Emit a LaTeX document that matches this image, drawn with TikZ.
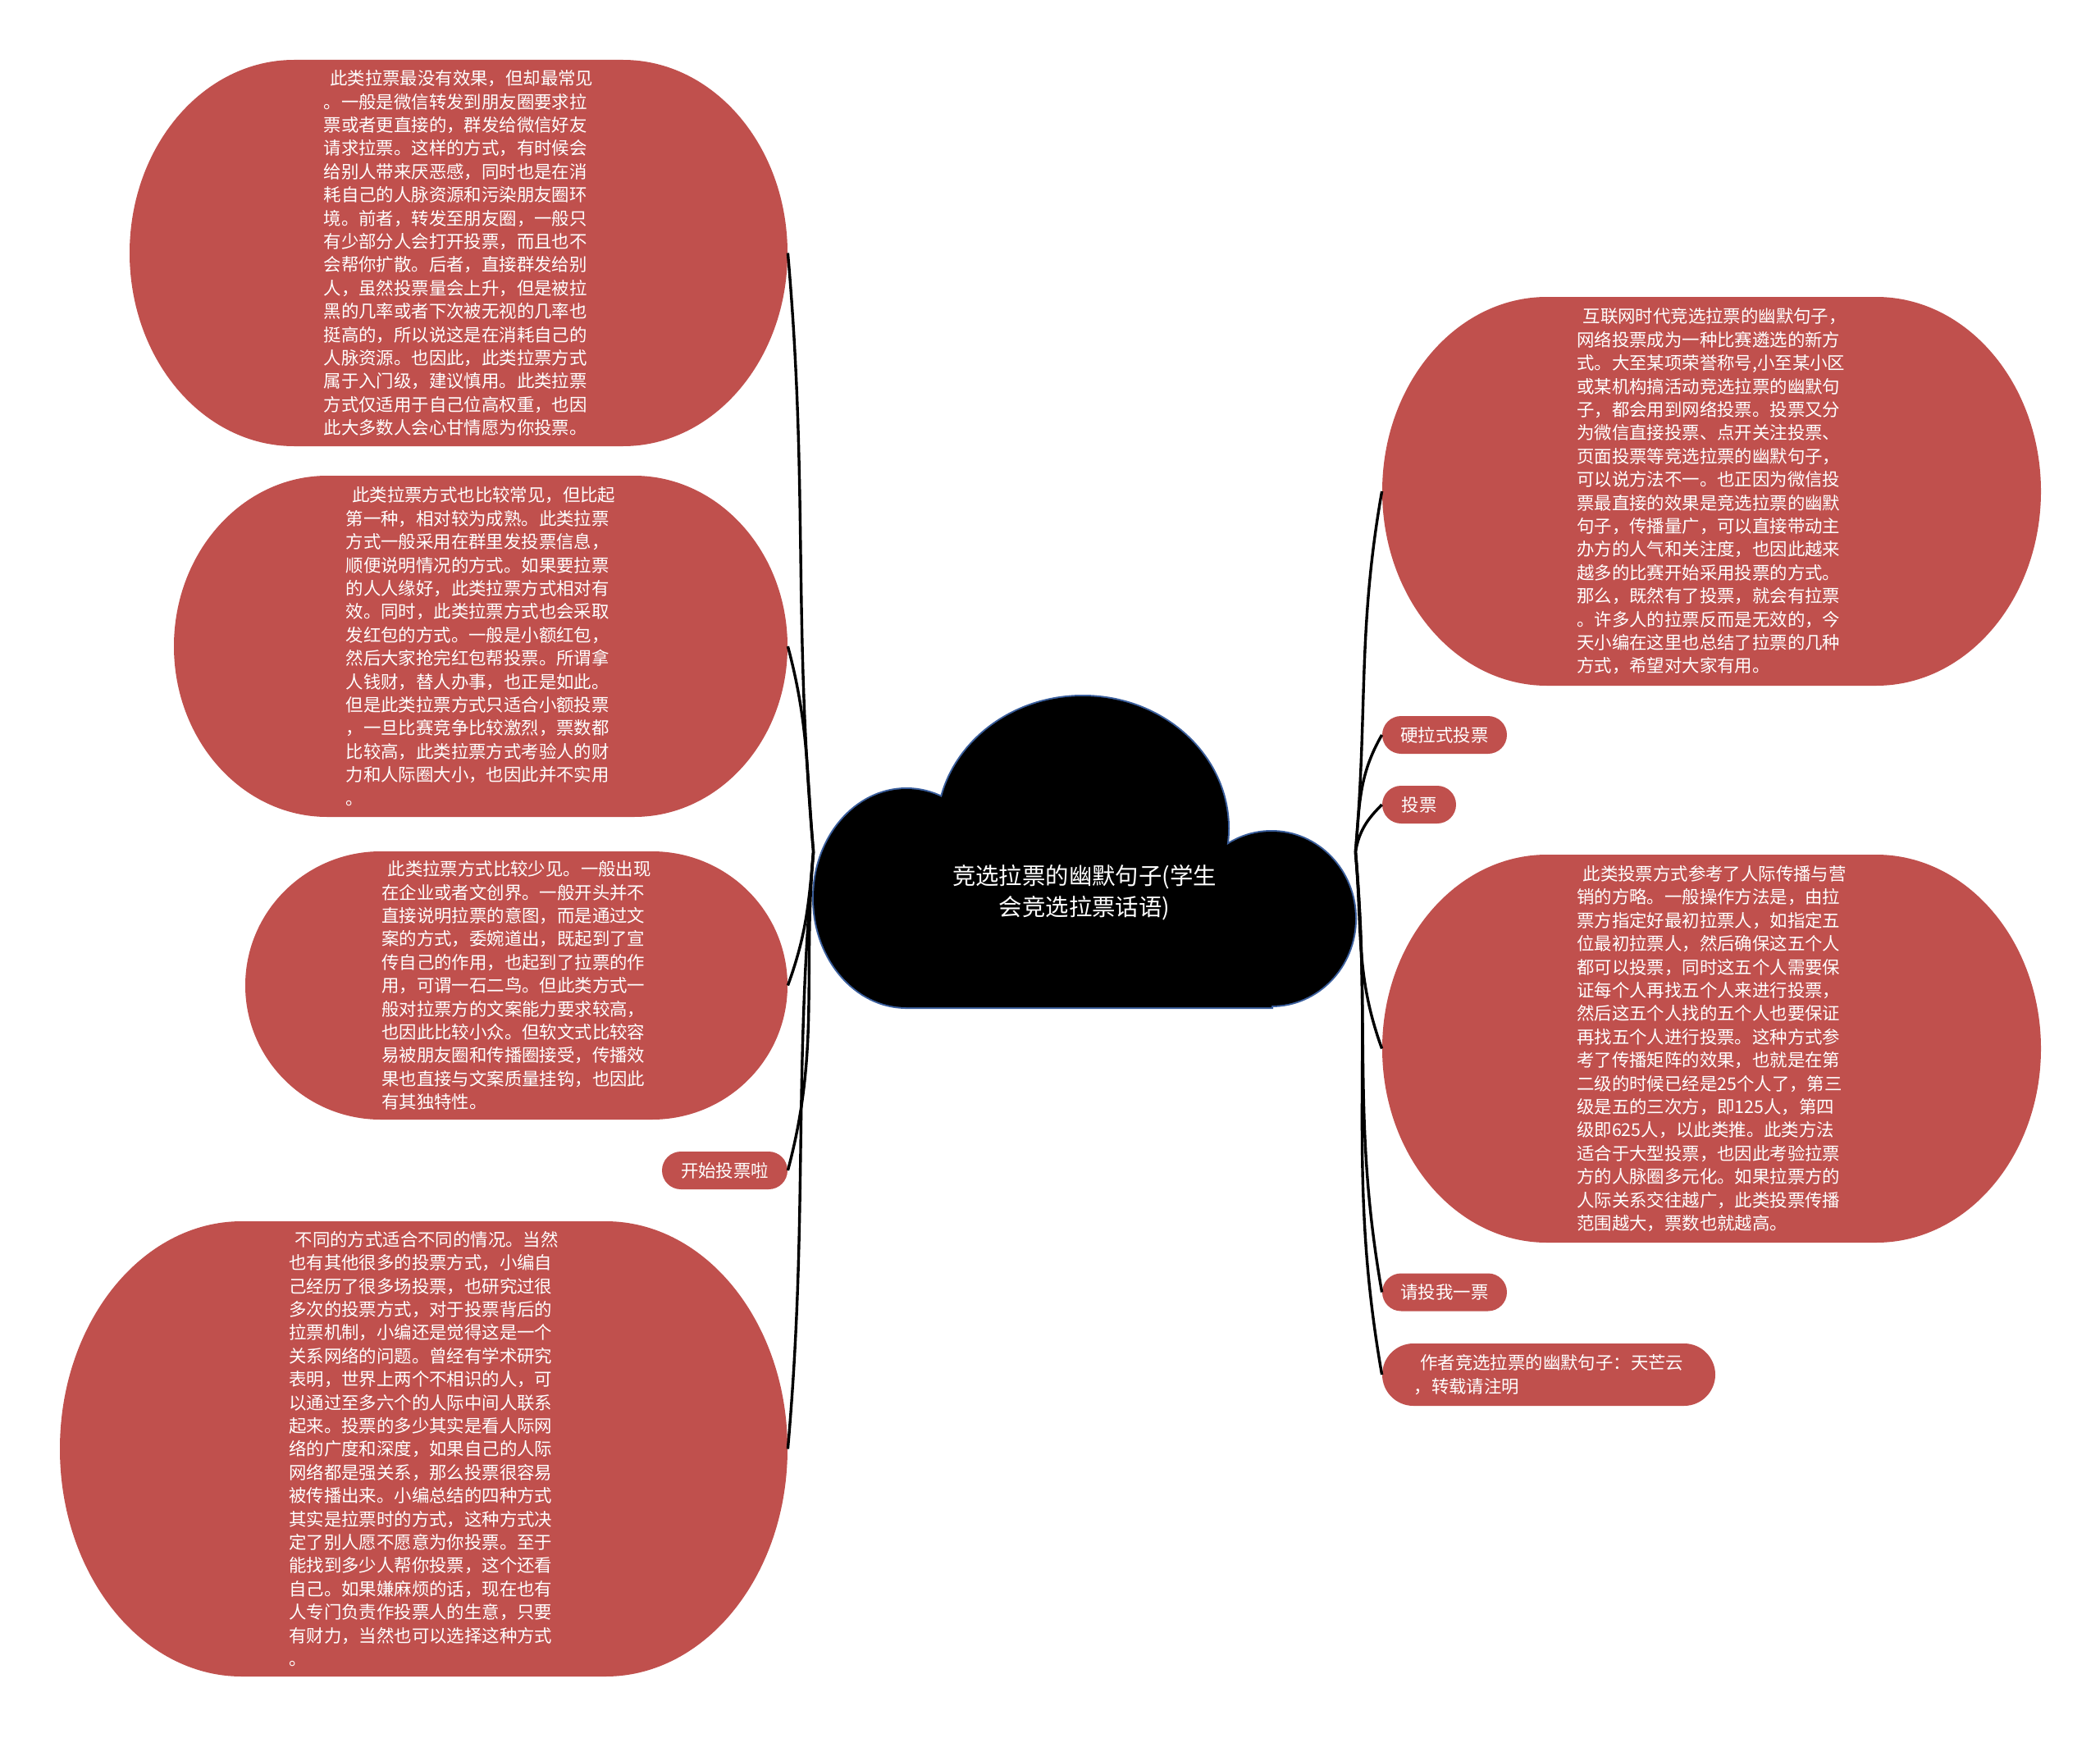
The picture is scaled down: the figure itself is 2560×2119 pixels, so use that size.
\documentclass[tikz,border=0pt]{standalone}
\usepackage{fontspec}
\setmainfont{Noto Sans CJK SC}
\newfontfamily\cjkf{Noto Sans CJK SC}
\definecolor{blobred}{HTML}{C0504D}
\definecolor{cloudblue}{HTML}{3A5E9C}
\tikzset{
  blobfill/.style={fill=blobred},
  bodytext/.style={font=\cjkf\fontsize{10.7pt}{14.2pt}\selectfont, text=white, align=left, inner sep=0pt},
  pill/.style={fill=blobred, rounded corners=11.5pt, font=\cjkf\fontsize{10.7pt}{14.2pt}\selectfont, text=white, inner sep=0pt, minimum height=23pt},
  conn/.style={draw=black, line width=1.7pt},
}
% cx cy w h  (pixels, y downward)
\newcommand\blobshape[4]{%
  \pgfmathsetmacro\zzL{#1-#3/2}\pgfmathsetmacro\zzR{#1+#3/2}%
  \pgfmathsetmacro\zzT{-(#2-#4/2)}\pgfmathsetmacro\zzB{-(#2+#4/2)}\pgfmathsetmacro\zzC{-(#2)}%
  \pgfmathsetmacro\zzA{0.25*#3}\pgfmathsetmacro\zzBb{#4/2}%
  \pgfmathsetmacro\zzKa{0.5523*\zzA}\pgfmathsetmacro\zzKb{0.5523*\zzBb}%
  \fill[blobfill] (\zzL+\zzA,\zzT) -- (\zzR-\zzA,\zzT)
    .. controls (\zzR-\zzA+\zzKa,\zzT) and (\zzR,\zzC+\zzKb) .. (\zzR,\zzC)
    .. controls (\zzR,\zzC-\zzKb) and (\zzR-\zzA+\zzKa,\zzB) .. (\zzR-\zzA,\zzB)
    -- (\zzL+\zzA,\zzB)
    .. controls (\zzL+\zzA-\zzKa,\zzB) and (\zzL,\zzC-\zzKb) .. (\zzL,\zzC)
    .. controls (\zzL,\zzC+\zzKb) and (\zzL+\zzA-\zzKa,\zzT) .. (\zzL+\zzA,\zzT) -- cycle;%
}
\begin{document}
\begin{tikzpicture}[x=0.5pt,y=0.5pt]
\useasboundingbox (0,0) rectangle (2560,-2119);
\fill[white] (0,0) rectangle (2560,-2119);

% ---- blobs ----
\blobshape{559}{308.5}{802}{471}
\blobshape{586}{788}{748}{416}
\blobshape{629.5}{1201.5}{661}{327}
\blobshape{516.5}{1766.5}{887}{555}
\blobshape{2086.5}{599}{803}{474}
\blobshape{2086.5}{1278.5}{803}{473}

\node[bodytext, minimum width=401pt, minimum height=235.5pt] (tl) at (559,-308.5) {\hspace*{0.35em}此类拉票最没有效果，但却最常见\\
。一般是微信转发到朋友圈要求拉\\
票或者更直接的，群发给微信好友\\
请求拉票。这样的方式，有时候会\\
给别人带来厌恶感，同时也是在消\\
耗自己的人脉资源和污染朋友圈环\\
境。前者，转发至朋友圈，一般只\\
有少部分人会打开投票，而且也不\\
会帮你扩散。后者，直接群发给别\\
人，虽然投票量会上升，但是被拉\\
黑的几率或者下次被无视的几率也\\
挺高的，所以说这是在消耗自己的\\
人脉资源。也因此，此类拉票方式\\
属于入门级，建议慎用。此类拉票\\
方式仅适用于自己位高权重，也因\\
此大多数人会心甘情愿为你投票。};

\node[bodytext, minimum width=374pt, minimum height=208pt] (s2) at (586,-788) {\hspace*{0.35em}此类拉票方式也比较常见，但比起\\
第一种，相对较为成熟。此类拉票\\
方式一般采用在群里发投票信息，\\
顺便说明情况的方式。如果要拉票\\
的人人缘好，此类拉票方式相对有\\
效。同时，此类拉票方式也会采取\\
发红包的方式。一般是小额红包，\\
然后大家抢完红包帮投票。所谓拿\\
人钱财，替人办事，也正是如此。\\
但是此类拉票方式只适合小额投票\\
，一旦比赛竞争比较激烈，票数都\\
比较高，此类拉票方式考验人的财\\
力和人际圈大小，也因此并不实用\\
。};

\node[bodytext, minimum width=330.5pt, minimum height=163.5pt] (s3) at (629.5,-1201.5) {\hspace*{0.35em}此类拉票方式比较少见。一般出现\\
在企业或者文创界。一般开头并不\\
直接说明拉票的意图，而是通过文\\
案的方式，委婉道出，既起到了宣\\
传自己的作用，也起到了拉票的作\\
用，可谓一石二鸟。但此类方式一\\
般对拉票方的文案能力要求较高，\\
也因此比较小众。但软文式比较容\\
易被朋友圈和传播圈接受，传播效\\
果也直接与文案质量挂钩，也因此\\
有其独特性。};

\node[bodytext, minimum width=443.5pt, minimum height=277.5pt] (bl) at (516.5,-1766.5) {\hspace*{0.35em}不同的方式适合不同的情况。当然\\
也有其他很多的投票方式，小编自\\
己经历了很多场投票，也研究过很\\
多次的投票方式，对于投票背后的\\
拉票机制，小编还是觉得这是一个\\
关系网络的问题。曾经有学术研究\\
表明，世界上两个不相识的人，可\\
以通过至多六个的人际中间人联系\\
起来。投票的多少其实是看人际网\\
络的广度和深度，如果自己的人际\\
网络都是强关系，那么投票很容易\\
被传播出来。小编总结的四种方式\\
其实是拉票时的方式，这种方式决\\
定了别人愿不愿意为你投票。至于\\
能找到多少人帮你投票，这个还看\\
自己。如果嫌麻烦的话，现在也有\\
人专门负责作投票人的生意，只要\\
有财力，当然也可以选择这种方式\\
。};

\node[bodytext, minimum width=401.5pt, minimum height=237pt] (tr) at (2086.5,-599) {\hspace*{0.35em}互联网时代竞选拉票的幽默句子，\\
网络投票成为一种比赛遴选的新方\\
式。大至某项荣誉称号,小至某小区\\
或某机构搞活动竞选拉票的幽默句\\
子，都会用到网络投票。投票又分\\
为微信直接投票、点开关注投票、\\
页面投票等竞选拉票的幽默句子，\\
可以说方法不一。也正因为微信投\\
票最直接的效果是竞选拉票的幽默\\
句子，传播量广，可以直接带动主\\
办方的人气和关注度，也因此越来\\
越多的比赛开始采用投票的方式。\\
那么，既然有了投票，就会有拉票\\
。许多人的拉票反而是无效的，今\\
天小编在这里也总结了拉票的几种\\
方式，希望对大家有用。};

\node[bodytext, minimum width=401.5pt, minimum height=236.5pt] (rm) at (2086.5,-1278.5) {\hspace*{0.35em}此类投票方式参考了人际传播与营\\
销的方略。一般操作方法是，由拉\\
票方指定好最初拉票人，如指定五\\
位最初拉票人，然后确保这五个人\\
都可以投票，同时这五个人需要保\\
证每个人再找五个人来进行投票，\\
然后这五个人找的五个人也要保证\\
再找五个人进行投票。这种方式参\\
考了传播矩阵的效果，也就是在第\\
二级的时候已经是25个人了，第三\\
级是五的三次方，即125人，第四\\
级即625人，以此类推。此类方法\\
适合于大型投票，也因此考验拉票\\
方的人脉圈多元化。如果拉票方的\\
人际关系交往越广，此类投票传播\\
范围越大，票数也就越高。};

% ---- pills ----
\node[pill, minimum width=76.5pt] (start) at (883.5,-1427) {开始投票啦};
\node[pill, minimum width=76pt] (ying) at (1761,-896) {硬拉式投票};
\node[pill, minimum width=45pt] (tou) at (1730,-981) {投票};
\node[pill, minimum width=76pt] (qing) at (1761,-1575.5) {请投我一票};
\node[pill, align=left, minimum width=203pt, minimum height=38pt, rounded corners=19pt] (author) at (1888,-1676) {\hspace*{0.35em}作者竞选拉票的幽默句子：天芒云\\，转载请注明};

% ---- central cloud ----
\draw[cloudblue, line width=2pt] (1105,-1095) ellipse [x radius=113, y radius=133]
  (1320,-1010) ellipse [x radius=177, y radius=161]
  (1550,-1120) ellipse [x radius=102, y radius=106]
  (1105,-1050) rectangle (1550,-1228);
\fill[black] (1105,-1095) ellipse [x radius=113, y radius=133]
  (1320,-1010) ellipse [x radius=177, y radius=161]
  (1550,-1120) ellipse [x radius=102, y radius=106]
  (1105,-1050) rectangle (1550,-1228);
\node[minimum width=330pt, minimum height=189.5pt, inner sep=0pt] (root) at (1322,-1038.5) {};
\node[font=\cjkf\fontsize{14.2pt}{18.8pt}\selectfont, text=white, align=center, inner sep=0pt] (roottext) at (1322,-1088) {竞选拉票的幽默句子(学生\\会竞选拉票话语)};

% ---- connectors ----
\draw[conn] (root.west) to[out=95,in=-85] (tl.east);
\draw[conn] (root.west) to[out=95,in=-75] (s2.east);
\draw[conn] (root.west) to[out=-95,in=70] (s3.east);
\draw[conn] (root.west) to[out=-95,in=75] (start.east);
\draw[conn] (root.west) to[out=-95,in=85] (bl.east);
\draw[conn] (root.east) to[out=85,in=-100] (tr.west);
\draw[conn] (root.east) to[out=85,in=-120] (ying.west);
\draw[conn] (root.east) to[out=80,in=-135] (tou.west);
\draw[conn] (root.east) to[out=-85,in=110] (rm.west);
\draw[conn] (root.east) to[out=-85,in=100] (qing.west);
\draw[conn] (root.east) to[out=-85,in=100] (author.west);
\end{tikzpicture}
\end{document}
